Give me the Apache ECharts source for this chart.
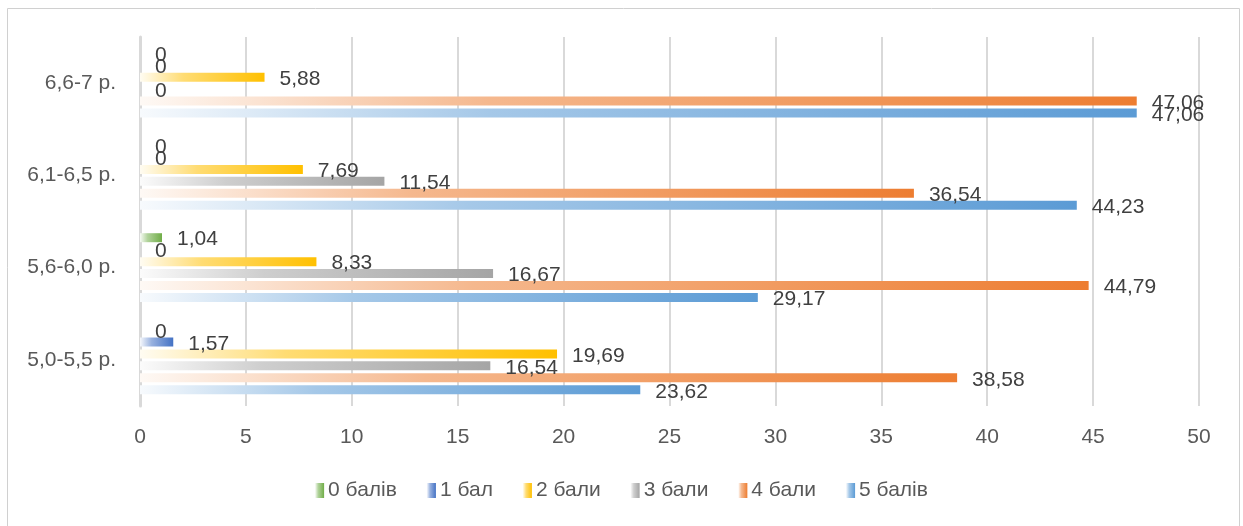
<!DOCTYPE html>
<html>
<head>
<meta charset="utf-8">
<script src="https://cdn.jsdelivr.net/npm/echarts@6/dist/echarts.min.js"></script>
<style>html,body{margin:0;padding:0;background:#fff;}#c{width:1243px;height:526px;}</style>
</head>
<body>
<div id="c"></div>
<script>
const categories = ['5,0-5,5 р.', '5,6-6,0 р.', '6,1-6,5 р.', '6,6-7 р.'];
const seriesNames = ['0 балів', '1 бал', '2 бали', '3 бали', '4 бали', '5 балів'];
const s0 = [0, 1.04, 0, 0];
const s1 = [1.57, 0, 0, 0];
const s2 = [19.69, 8.33, 7.69, 5.88];
const s3 = [16.54, 16.67, 11.54, 0];
const s4 = [38.58, 44.79, 36.54, 47.06];
const s5 = [23.62, 29.17, 44.23, 47.06];
const xTicks = [0, 5, 10, 15, 20, 25, 30, 35, 40, 45, 50];

const seriesValues = [s0, s1, s2, s3, s4, s5];
const colors = ['#70AD47', '#4472C4', '#FFC000', '#A5A5A5', '#ED7D31', '#5B9BD5'];

function hexToRgb(h){const n=parseInt(h.slice(1),16);return [(n>>16)&255,(n>>8)&255,n&255];}
function tint(h,t){const c=hexToRgb(h);return 'rgb('+c.map(v=>Math.round(v+(255-v)*t)).join(',')+')';}
function grad(h){
  return new echarts.graphic.LinearGradient(0,0,1,0,[
    {offset:0,color:tint(h,0.95)},
    {offset:0.35,color:tint(h,0.45)},
    {offset:1,color:h}
  ]);
}

const chart = echarts.init(document.getElementById('c'), null, {renderer:'canvas'});
const font = 'Liberation Sans';
chart.setOption({
  animation:false,
  backgroundColor:'#fff',
  graphic:[{type:'rect',shape:{x:7.5,y:8.5,width:1232,height:530},style:{fill:'none',stroke:'#D0D0D0',lineWidth:1},silent:true}],
  legend:{
    data:seriesNames,
    bottom:20,
    left:'center',
    itemWidth:9,
    itemHeight:15,
    itemGap:30,
    textStyle:{fontFamily:font,fontSize:21,color:'#595959',padding:[0,0,0,-1]},
    icon:'rect'
  },
  grid:{left:140,right:44,top:37,bottom:120,containLabel:false},
  xAxis:{
    type:'value',min:0,max:50,interval:5,
    axisLine:{show:false},
    axisTick:{show:false},
    splitLine:{show:true,lineStyle:{color:'#D9D9D9',width:2}},
    axisLabel:{fontFamily:font,fontSize:21,color:'#595959',margin:21,
      formatter:v=>xTicks.includes(v)?String(v):''}
  },
  yAxis:{
    type:'category',data:categories,
    axisLine:{show:true,lineStyle:{color:'#D9D9D9',width:3}},
    axisTick:{show:false},
    axisLabel:{fontFamily:font,fontSize:21,color:'#595959',margin:24}
  },
  series:seriesNames.map((n,i)=>({
    name:n,type:'bar',data:seriesValues[i],
    barWidth:9,barGap:'33%',barCategoryGap:'25%',
    itemStyle:{color:grad(colors[i])},
    label:{show:true,position:'right',distance:15,offset:[0,2],
      fontFamily:font,fontSize:21,color:'#404040',
      formatter:p=>String(p.value).replace('.',',')}
  }))
});
</script>
</body>
</html>
